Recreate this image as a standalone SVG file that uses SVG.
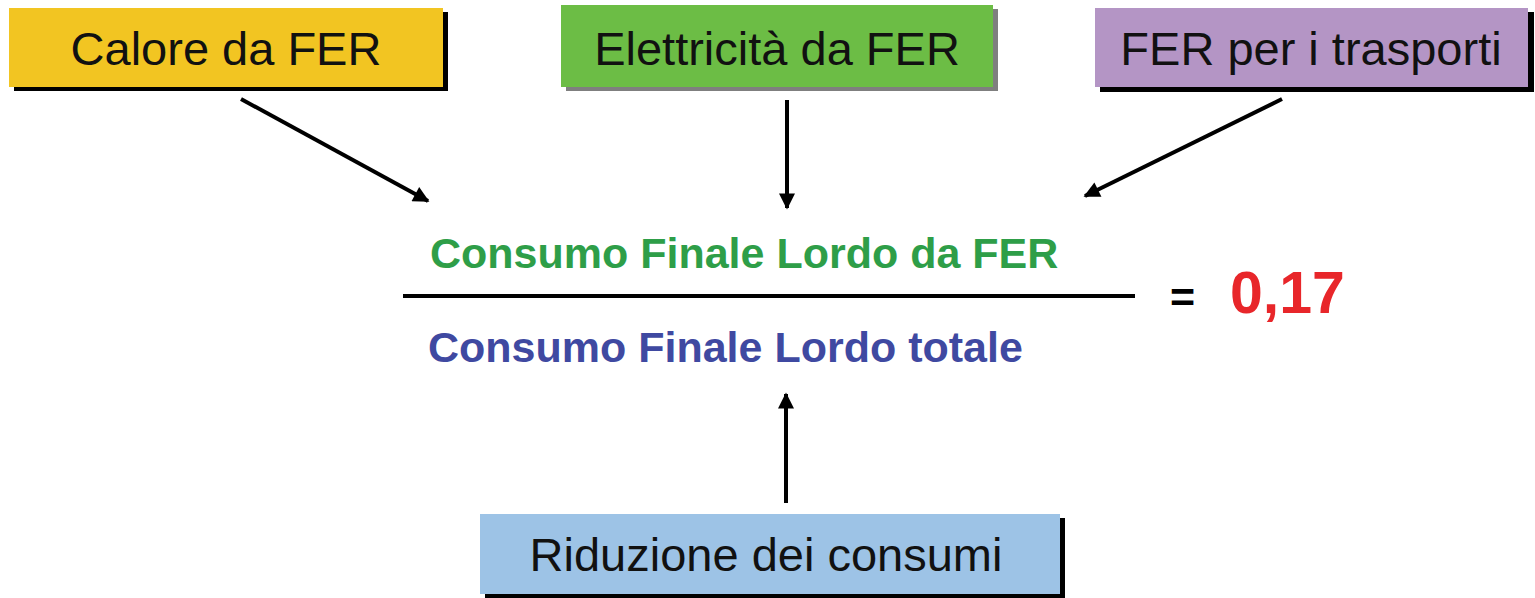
<svg xmlns="http://www.w3.org/2000/svg" width="1535" height="598" viewBox="0 0 1535 598">
<defs>
<style>
.box{stroke:none}
.lbl{font-family:"Liberation Sans",Arial,sans-serif;font-size:47px;fill:#111;text-anchor:middle}
.f{font-family:"Liberation Sans",Arial,sans-serif;font-weight:bold;font-size:43px}
.conn{stroke:#000;stroke-width:4;fill:none;marker-end:url(#ah)}
</style>
<marker id="ah" viewBox="0 0 10 10" refX="9" refY="5" markerWidth="4.5" markerHeight="4" orient="auto" markerUnits="strokeWidth">
<path d="M0,0 L10,5 L0,10 z" fill="#000"/>
</marker>
</defs>
<rect width="1535" height="598" fill="#fff"/>
<g id="calore">
<rect x="14" y="12" width="434" height="79" fill="#000"/>
<rect x="9" y="8" width="434" height="79" fill="#F2C522"/>
<text class="lbl" x="226" y="65">Calore da FER</text>
</g>
<g id="elettricita">
<rect x="566" y="9" width="432" height="82" fill="#7f7f7f"/>
<rect x="561" y="5" width="432" height="82" fill="#6CBD45"/>
<text class="lbl" x="777" y="65">Elettricità da FER</text>
</g>
<g id="trasporti">
<rect x="1100" y="12" width="434" height="80" fill="#000"/>
<rect x="1095" y="8" width="433" height="79" fill="#B495C5"/>
<text class="lbl" x="1311" y="65">FER per i trasporti</text>
</g>
<g id="riduzione">
<rect x="485" y="518" width="580" height="80" fill="#000"/>
<rect x="480" y="514" width="580" height="80" fill="#9DC3E6"/>
<text class="lbl" x="766" y="571">Riduzione dei consumi</text>
</g>
<g id="formula">
<text class="f" x="430" y="268" fill="#2E9E48">Consumo Finale Lordo da FER</text>
<line x1="403" y1="296" x2="1135" y2="296" stroke="#000" stroke-width="4"/>
<text class="f" x="428" y="362" fill="#3F49A1">Consumo Finale Lordo totale</text>
<text class="f" x="1170" y="312" fill="#000">=</text>
<text x="1230" y="313" fill="#E8262A" font-family="Liberation Sans,Arial,sans-serif" font-weight="bold" font-size="59">0,17</text>
</g>
<g id="connectors">
<line class="conn" x1="241" y1="99" x2="428" y2="201"/>
<line class="conn" x1="787" y1="100" x2="787" y2="208"/>
<line class="conn" x1="1282" y1="99" x2="1085" y2="196"/>
<line class="conn" x1="786" y1="503" x2="786" y2="394"/>
</g>
</svg>
